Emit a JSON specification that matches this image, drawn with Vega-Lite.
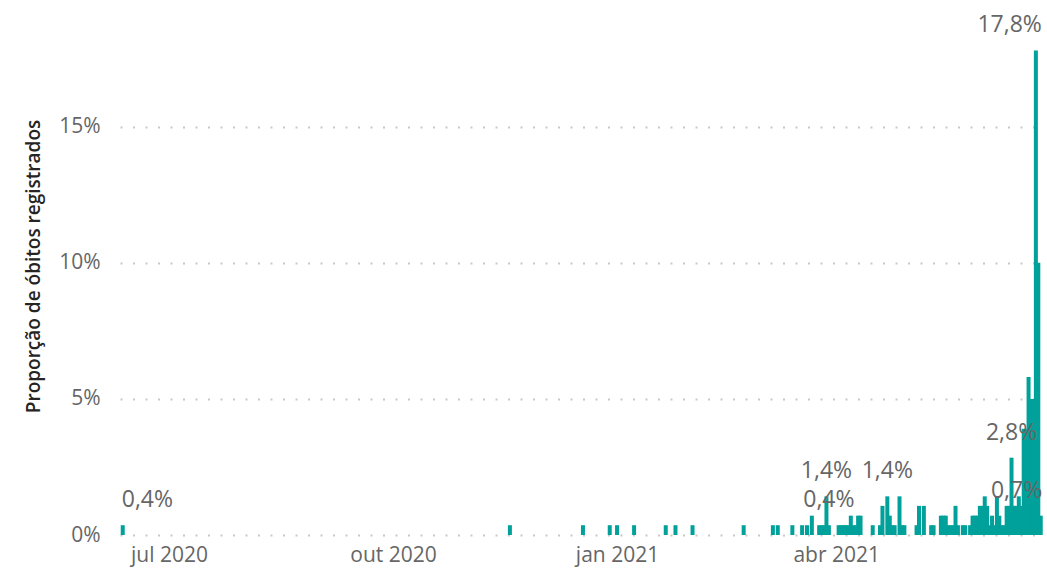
{
  "$schema": "https://vega.github.io/schema/vega-lite/v6.json",
  "width": 925,
  "height": 490,
  "autosize": {"type": "none"},
  "padding": {"left": 120, "top": 45, "right": 2, "bottom": 35},
  "background": "white",
  "config": {
    "view": {"stroke": null},
    "font": "Open Sans",
    "locale": {
      "number": {"decimal": ",", "thousands": ".", "grouping": [3], "currency": ["R$", ""]},
      "time": {
        "dateTime": "%A, %e de %B de %Y. %X",
        "date": "%d/%m/%Y",
        "time": "%H:%M:%S",
        "periods": ["AM", "PM"],
        "days": ["domingo", "segunda", "terça", "quarta", "quinta", "sexta", "sábado"],
        "shortDays": ["dom", "seg", "ter", "qua", "qui", "sex", "sáb"],
        "months": ["janeiro", "fevereiro", "março", "abril", "maio", "junho", "julho", "agosto", "setembro", "outubro", "novembro", "dezembro"],
        "shortMonths": ["jan", "fev", "mar", "abr", "mai", "jun", "jul", "ago", "set", "out", "nov", "dez"]
      }
    }
  },
  "data": {
    "values": [
      {"data": "2020-06-12", "proporcao": 0.0036, "rotulo": true},
      {"data": "2020-11-18", "proporcao": 0.0036, "rotulo": false},
      {"data": "2020-12-18", "proporcao": 0.0036, "rotulo": false},
      {"data": "2020-12-29", "proporcao": 0.0036, "rotulo": false},
      {"data": "2021-01-01", "proporcao": 0.0036, "rotulo": false},
      {"data": "2021-01-08", "proporcao": 0.0036, "rotulo": false},
      {"data": "2021-01-21", "proporcao": 0.0036, "rotulo": false},
      {"data": "2021-01-25", "proporcao": 0.0036, "rotulo": false},
      {"data": "2021-02-01", "proporcao": 0.0036, "rotulo": false},
      {"data": "2021-02-22", "proporcao": 0.0036, "rotulo": false},
      {"data": "2021-03-06", "proporcao": 0.0036, "rotulo": false},
      {"data": "2021-03-08", "proporcao": 0.0036, "rotulo": false},
      {"data": "2021-03-14", "proporcao": 0.0036, "rotulo": false},
      {"data": "2021-03-18", "proporcao": 0.0036, "rotulo": false},
      {"data": "2021-03-20", "proporcao": 0.0036, "rotulo": false},
      {"data": "2021-03-22", "proporcao": 0.0071, "rotulo": false},
      {"data": "2021-03-25", "proporcao": 0.0036, "rotulo": false},
      {"data": "2021-03-26", "proporcao": 0.0036, "rotulo": false},
      {"data": "2021-03-27", "proporcao": 0.0036, "rotulo": false},
      {"data": "2021-03-28", "proporcao": 0.0142, "rotulo": true},
      {"data": "2021-03-29", "proporcao": 0.0036, "rotulo": true},
      {"data": "2021-04-02", "proporcao": 0.0036, "rotulo": false},
      {"data": "2021-04-03", "proporcao": 0.0036, "rotulo": false},
      {"data": "2021-04-04", "proporcao": 0.0036, "rotulo": false},
      {"data": "2021-04-05", "proporcao": 0.0036, "rotulo": false},
      {"data": "2021-04-06", "proporcao": 0.0036, "rotulo": false},
      {"data": "2021-04-07", "proporcao": 0.0071, "rotulo": false},
      {"data": "2021-04-08", "proporcao": 0.0036, "rotulo": false},
      {"data": "2021-04-09", "proporcao": 0.0036, "rotulo": false},
      {"data": "2021-04-10", "proporcao": 0.0071, "rotulo": false},
      {"data": "2021-04-11", "proporcao": 0.0071, "rotulo": false},
      {"data": "2021-04-16", "proporcao": 0.0036, "rotulo": false},
      {"data": "2021-04-19", "proporcao": 0.0036, "rotulo": false},
      {"data": "2021-04-20", "proporcao": 0.0107, "rotulo": false},
      {"data": "2021-04-22", "proporcao": 0.0142, "rotulo": true},
      {"data": "2021-04-23", "proporcao": 0.0071, "rotulo": false},
      {"data": "2021-04-24", "proporcao": 0.0036, "rotulo": false},
      {"data": "2021-04-25", "proporcao": 0.0036, "rotulo": false},
      {"data": "2021-04-27", "proporcao": 0.0142, "rotulo": false},
      {"data": "2021-04-28", "proporcao": 0.0036, "rotulo": false},
      {"data": "2021-04-29", "proporcao": 0.0036, "rotulo": false},
      {"data": "2021-05-04", "proporcao": 0.0036, "rotulo": false},
      {"data": "2021-05-05", "proporcao": 0.0107, "rotulo": false},
      {"data": "2021-05-07", "proporcao": 0.0107, "rotulo": false},
      {"data": "2021-05-10", "proporcao": 0.0036, "rotulo": false},
      {"data": "2021-05-11", "proporcao": 0.0036, "rotulo": false},
      {"data": "2021-05-14", "proporcao": 0.0071, "rotulo": false},
      {"data": "2021-05-15", "proporcao": 0.0071, "rotulo": false},
      {"data": "2021-05-16", "proporcao": 0.0071, "rotulo": false},
      {"data": "2021-05-17", "proporcao": 0.0036, "rotulo": false},
      {"data": "2021-05-18", "proporcao": 0.0036, "rotulo": false},
      {"data": "2021-05-19", "proporcao": 0.0036, "rotulo": false},
      {"data": "2021-05-20", "proporcao": 0.0107, "rotulo": false},
      {"data": "2021-05-21", "proporcao": 0.0036, "rotulo": false},
      {"data": "2021-05-23", "proporcao": 0.0036, "rotulo": false},
      {"data": "2021-05-24", "proporcao": 0.0036, "rotulo": false},
      {"data": "2021-05-26", "proporcao": 0.0036, "rotulo": false},
      {"data": "2021-05-27", "proporcao": 0.0071, "rotulo": false},
      {"data": "2021-05-28", "proporcao": 0.0071, "rotulo": false},
      {"data": "2021-05-29", "proporcao": 0.0071, "rotulo": false},
      {"data": "2021-05-30", "proporcao": 0.0107, "rotulo": false},
      {"data": "2021-05-31", "proporcao": 0.0107, "rotulo": false},
      {"data": "2021-06-01", "proporcao": 0.0142, "rotulo": false},
      {"data": "2021-06-02", "proporcao": 0.0107, "rotulo": false},
      {"data": "2021-06-03", "proporcao": 0.0036, "rotulo": false},
      {"data": "2021-06-04", "proporcao": 0.0071, "rotulo": false},
      {"data": "2021-06-05", "proporcao": 0.0036, "rotulo": false},
      {"data": "2021-06-06", "proporcao": 0.0142, "rotulo": false},
      {"data": "2021-06-07", "proporcao": 0.0071, "rotulo": false},
      {"data": "2021-06-08", "proporcao": 0.0036, "rotulo": false},
      {"data": "2021-06-09", "proporcao": 0.0036, "rotulo": false},
      {"data": "2021-06-10", "proporcao": 0.0107, "rotulo": false},
      {"data": "2021-06-11", "proporcao": 0.0107, "rotulo": false},
      {"data": "2021-06-12", "proporcao": 0.0284, "rotulo": true},
      {"data": "2021-06-13", "proporcao": 0.0107, "rotulo": false},
      {"data": "2021-06-14", "proporcao": 0.0107, "rotulo": false},
      {"data": "2021-06-15", "proporcao": 0.0142, "rotulo": false},
      {"data": "2021-06-16", "proporcao": 0.0107, "rotulo": false},
      {"data": "2021-06-17", "proporcao": 0.039, "rotulo": false},
      {"data": "2021-06-18", "proporcao": 0.039, "rotulo": false},
      {"data": "2021-06-19", "proporcao": 0.058, "rotulo": false},
      {"data": "2021-06-20", "proporcao": 0.05, "rotulo": false},
      {"data": "2021-06-21", "proporcao": 0.05, "rotulo": false},
      {"data": "2021-06-22", "proporcao": 0.178, "rotulo": true},
      {"data": "2021-06-23", "proporcao": 0.1, "rotulo": false},
      {"data": "2021-06-24", "proporcao": 0.0071, "rotulo": true}
    ]
  },
  "encoding": {
    "x": {
      "field": "data",
      "type": "temporal",
      "scale": {
        "type": "utc",
        "padding": 0,
        "domain": [
          {"year": 2020, "month": 6, "date": 10, "hours": 21, "minutes": 7, "utc": true},
          {"year": 2021, "month": 6, "date": 25, "hours": 18, "utc": true}
        ]
      },
      "axis": {
        "title": null,
        "values": [
          {"year": 2020, "month": 7, "date": 1, "utc": true},
          {"year": 2020, "month": 10, "date": 1, "utc": true},
          {"year": 2021, "month": 1, "date": 1, "utc": true},
          {"year": 2021, "month": 4, "date": 1, "utc": true}
        ],
        "format": "%b %Y",
        "grid": false,
        "domain": false,
        "ticks": false,
        "labelFont": "Open Sans",
        "labelFontSize": 21,
        "labelColor": "#666666",
        "labelPadding": 9,
        "labelFlush": false
      }
    },
    "y": {
      "field": "proporcao",
      "type": "quantitative",
      "scale": {"domain": [0, 0.18], "nice": false, "zero": true},
      "axis": {
        "title": "Proporção de óbitos registrados",
        "titleFont": "Open Sans",
        "titleFontSize": 19,
        "titleFontWeight": 600,
        "titleColor": "#252423",
        "titleX": -87,
        "titleY": 221,
        "titleAlign": "center",
        "titleBaseline": "middle",
        "titleAngle": -90,
        "values": [0, 0.05, 0.1, 0.15],
        "format": ".0%",
        "domain": false,
        "ticks": false,
        "labelFont": "Open Sans",
        "labelFontSize": 21,
        "labelColor": "#666666",
        "labelPadding": 20,
        "grid": true,
        "gridColor": "#c8c8c8",
        "gridWidth": 2,
        "gridDash": [2, 10.5]
      }
    }
  },
  "layer": [
    {"mark": {"type": "bar", "width": 4, "color": "#00A19A"}},
    {
      "transform": [{"filter": "datum.rotulo && time(datum.data) > utc(2021,0,1) && time(datum.data) < utc(2021,5,20)"}],
      "mark": {"type": "text", "align": "center", "baseline": "middle", "dy": -25, "fontSize": 23, "font": "Open Sans", "color": "#666666"},
      "encoding": {"text": {"field": "proporcao", "format": ".1%"}}
    },
    {
      "transform": [{"filter": "datum.rotulo && time(datum.data) < utc(2021,0,1)"}],
      "mark": {"type": "text", "align": "left", "baseline": "middle", "dx": -1, "dy": -25, "fontSize": 23, "font": "Open Sans", "color": "#666666"},
      "encoding": {"text": {"field": "proporcao", "format": ".1%"}}
    },
    {
      "transform": [{"filter": "datum.rotulo && datum.proporcao > 0.15"}],
      "mark": {"type": "text", "align": "right", "baseline": "middle", "dx": 6, "dy": -25, "fontSize": 23, "font": "Open Sans", "color": "#666666"},
      "encoding": {"text": {"field": "proporcao", "format": ".1%"}}
    },
    {
      "transform": [{"filter": "datum.rotulo && time(datum.data) >= utc(2021,5,20) && datum.proporcao < 0.15"}],
      "mark": {"type": "text", "align": "right", "baseline": "middle", "dx": 1.5, "dy": -25, "fontSize": 23, "font": "Open Sans", "color": "#666666"},
      "encoding": {"text": {"field": "proporcao", "format": ".1%"}}
    }
  ]
}
